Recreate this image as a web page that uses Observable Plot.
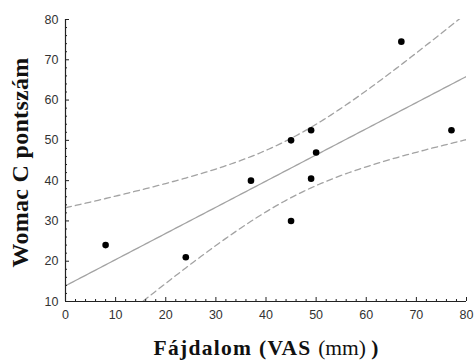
<!DOCTYPE html>
<html><head><meta charset="utf-8">
<script src="https://cdn.jsdelivr.net/npm/d3@7"></script>
<script src="https://cdn.jsdelivr.net/npm/@observablehq/plot@0.6"></script>
<style>body{margin:0;background:#fff}#chart{width:474px;height:363px}</style>
</head><body><div id="chart"></div>
<script>
const painVAS = [8, 24, 37, 45, 45, 49, 49, 50, 67, 77];
const womacC = [24, 21, 40, 50, 30, 52.5, 40.5, 47, 74.5, 52.5];
const xTicks = [0, 10, 20, 30, 40, 50, 60, 70, 80];
const yTicks = [10, 20, 30, 40, 50, 60, 70, 80];
const xMinor = [2,4,6,8,12,14,16,18,22,24,26,28,32,34,36,38,42,44,46,48,52,54,56,58,62,64,66,68,72,74,76,78];
const yMinor = [12,14,16,18,22,24,26,28,32,34,36,38,42,44,46,48,52,54,56,58,62,64,66,68,72,74,76,78];
const xTitle = "Fájdalom (VAS ";
const xTitleUnit = "(mm)";
const yTitle = "Womac C pontszám";

const W = 474, H = 363, mL = 65, mR = 8, mT = 19, mB = 62;
const pW = W - mL - mR, pH = H - mT - mB;

const data = painVAS.map((x, i) => ({x, y: womacC[i]}));
// least squares fit with 95% confidence band
const n = data.length;
const mx = d3.mean(painVAS), my = d3.mean(womacC);
const sxx = d3.sum(painVAS, x => (x - mx) ** 2);
const sxy = d3.sum(data, d => (d.x - mx) * (d.y - my));
const slope = sxy / sxx, icpt = my - slope * mx;
const s = Math.sqrt(d3.sum(data, d => (d.y - icpt - slope * d.x) ** 2) / (n - 2));
const tCrit = 2.306;
const fit = d3.range(0, 80.01, 0.5).map(x => {
  const yh = icpt + slope * x;
  const h = tCrit * s * Math.sqrt(1 / n + (x - mx) ** 2 / sxx);
  return {x, yh, lo: yh - h, hi: yh + h};
});

const gray = "#a3a3a3";
const plot = Plot.plot({
  width: W, height: H,
  marginLeft: mL, marginRight: mR, marginTop: mT, marginBottom: mB,
  style: {fontFamily: "'Liberation Sans', Arial, sans-serif", fontSize: "12.5px", color: "#333", background: "#fff"},
  x: {domain: [0, 80]},
  y: {domain: [10, 80]},
  marks: [
    Plot.line(fit, {x: "x", y: "yh", stroke: gray, strokeWidth: 1.3, clip: true}),
    Plot.line(fit, {x: "x", y: "hi", stroke: gray, strokeWidth: 1.3, strokeDasharray: "6,4", clip: true}),
    Plot.line(fit, {x: "x", y: "lo", stroke: gray, strokeWidth: 1.3, strokeDasharray: "6,4", clip: true}),
    Plot.dot(data, {x: "x", y: "y", r: 3.3, fill: "#000", stroke: null}),
    Plot.ruleX(xTicks, {x: d => d, insetTop: pH - 4, stroke: "#222"}),
    Plot.ruleX(xMinor, {x: d => d, insetTop: pH - 2, stroke: "#222"}),
    Plot.ruleY(yTicks, {y: d => d, insetRight: pW - 4, stroke: "#222"}),
    Plot.ruleY(yMinor, {y: d => d, insetRight: pW - 2, stroke: "#222"}),
    Plot.ruleX([0], {stroke: "#222", strokeWidth: 1.2}),
    Plot.ruleY([10], {stroke: "#222", strokeWidth: 1.2}),
    Plot.axisX(xTicks, {tickSize: 0, tickPadding: 9, label: null, fill: "#333"}),
    Plot.axisY(yTicks, {tickSize: 0, tickPadding: 7, label: null, fill: "#333"})
  ]
});
document.getElementById("chart").appendChild(plot);

const svg = d3.select(plot);
const serif = "'Liberation Serif', 'Times New Roman', serif";
const xt = svg.append("text")
  .attr("x", 266).attr("y", 355)
  .attr("text-anchor", "middle")
  .style("font-family", serif).style("font-size", "21.5px").style("font-weight", "bold").style("fill", "#111");
xt.append("tspan").style("letter-spacing", "1.3px").text(xTitle);
xt.append("tspan").style("font-weight", "normal").text(xTitleUnit);
xt.append("tspan").text(" )");
svg.append("text")
  .attr("transform", `translate(28,162.5) rotate(-90)`)
  .attr("text-anchor", "middle")
  .style("font-family", serif).style("font-size", "24px").style("font-weight", "bold").style("letter-spacing", "0.3px").style("fill", "#111")
  .text(yTitle);
</script></body></html>
